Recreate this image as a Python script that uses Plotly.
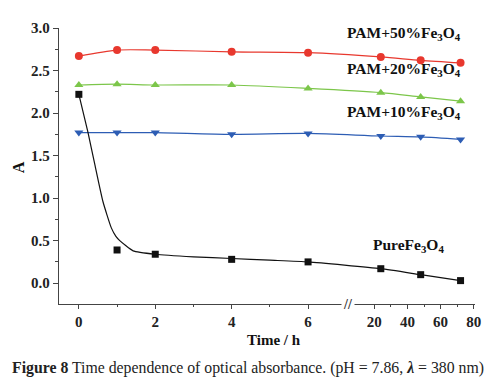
import plotly.graph_objects as go

# ---------------- data ----------------
time_h = [0, 1, 2, 4, 6, 24, 48, 72]
pam50 = [2.67, 2.74, 2.74, 2.72, 2.71, 2.66, 2.62, 2.59]
pam20 = [2.33, 2.34, 2.33, 2.33, 2.29, 2.24, 2.19, 2.14]
pam10 = [1.77, 1.77, 1.77, 1.75, 1.76, 1.73, 1.72, 1.69]
pure = [2.22, 0.39, 0.34, 0.28, 0.25, 0.17, 0.10, 0.03]

# fitted curve drawn through the Pure Fe3O4 points
pure_fit_t = [0, 0.24, 0.42, 0.63, 0.85, 0.97, 1.07, 1.42, 2, 3, 4, 5, 6, 24, 48, 72]
pure_fit_y = [2.22, 1.77, 1.39, 0.96, 0.65, 0.55, 0.50, 0.38, 0.34, 0.31, 0.29, 0.27, 0.25, 0.17, 0.10, 0.03]

left_ticks = [0, 2, 4, 6]
right_ticks = [20, 40, 60, 80]
left_minor = [1, 3, 5]
right_minor = [30, 50, 70]
y_ticks = [0.0, 0.5, 1.0, 1.5, 2.0, 2.5, 3.0]

# ---------------- broken x-axis mapping ----------------
BREAK_LEFT = 7.0          # end of the left (0..7 h) segment
RIGHT_ORIGIN = 7.73       # axis position of t = 20 h
RIGHT_SCALE = 0.0435      # axis units per hour in the right segment


def pos(t):
    return t if t <= BREAK_LEFT else RIGHT_ORIGIN + (t - 20) * RIGHT_SCALE


def positions(ts):
    return [pos(t) for t in ts]


RED = "#e8382e"
GREEN = "#7cc64a"
BLUE = "#2d5db4"
BLACK = "#111111"
FONT = "Liberation Serif"

fig = go.Figure()

fig.add_trace(go.Scatter(x=positions(time_h), y=pam50, mode="lines+markers",
                         line=dict(color=RED, width=1.2, shape="spline", smoothing=0.8),
                         marker=dict(symbol="circle", size=8, color=RED)))
fig.add_trace(go.Scatter(x=positions(time_h), y=pam20, mode="lines+markers",
                         line=dict(color=GREEN, width=1.2, shape="spline", smoothing=0.8),
                         marker=dict(symbol="triangle-up", size=8, color=GREEN)))
fig.add_trace(go.Scatter(x=positions(time_h), y=pam10, mode="lines+markers",
                         line=dict(color=BLUE, width=1.2, shape="spline", smoothing=0.8),
                         marker=dict(symbol="triangle-down", size=8, color=BLUE)))
fig.add_trace(go.Scatter(x=positions(pure_fit_t), y=pure_fit_y, mode="lines",
                         line=dict(color=BLACK, width=1.2, shape="spline", smoothing=0.5)))
fig.add_trace(go.Scatter(x=positions(time_h), y=pure, mode="markers",
                         marker=dict(symbol="square", size=7, color=BLACK)))

axis_font = dict(family=FONT, size=15, color="#222222")

fig.update_xaxes(
    range=[-0.52, 10.37],
    tickmode="array",
    tickvals=positions(left_ticks + right_ticks),
    ticktext=[f"<b>{t}</b>" for t in left_ticks + right_ticks],
    ticks="outside", ticklen=4, tickwidth=1.2, tickcolor="#444444",
    minor=dict(tickmode="array", tickvals=positions(left_minor + right_minor),
               ticks="outside", ticklen=2, tickcolor="#444444"),
    showline=True, linecolor="#444444", linewidth=1.4,
    showgrid=False, zeroline=False,
    tickfont=axis_font,
)
fig.update_yaxes(
    range=[-0.245, 3.0],
    tickmode="array",
    tickvals=y_ticks,
    ticktext=[f"<b>{v:.1f}</b>" for v in y_ticks],
    ticks="outside", ticklen=5, tickwidth=1.2, tickcolor="#444444",
    minor=dict(dtick=0.25, tick0=0, ticks="outside", ticklen=3, tickcolor="#444444"),
    showline=True, linecolor="#444444", linewidth=1.4,
    showgrid=False, zeroline=False,
    tickfont=axis_font,
)

label_font = dict(family=FONT, size=15.5, color="#111111")
annotations = [
    dict(x=pos(38), y=2.94, text="<b>PAM+50%Fe<sub>3</sub>O<sub>4</sub></b>"),
    dict(x=pos(38), y=2.51, text="<b>PAM+20%Fe<sub>3</sub>O<sub>4</sub></b>"),
    dict(x=pos(38), y=2.01, text="<b>PAM+10%Fe<sub>3</sub>O<sub>4</sub></b>"),
    dict(x=pos(40.5), y=0.44, text="<b>PureFe<sub>3</sub>O<sub>4</sub></b>"),
]
for a in annotations:
    fig.add_annotation(xref="x", yref="y", showarrow=False, font=label_font,
                       xanchor="center", yanchor="middle", **a)

# axis break mark
fig.add_annotation(x=7.05, y=-0.245, xref="x", yref="y", text="<b>//</b>", showarrow=False,
                   font=dict(family=FONT, size=14, color="#333333"),
                   xanchor="center", yanchor="middle", bgcolor="white")

# axis titles
fig.add_annotation(xref="paper", yref="paper", x=0.516, y=-0.129, xanchor="center", yanchor="middle",
                   text="<b>Time / h</b>", showarrow=False,
                   font=dict(family=FONT, size=15, color="#111111"))
fig.add_annotation(xref="paper", yref="paper", x=-0.098, y=0.496, xanchor="center", yanchor="middle",
                   text="<b>A</b>", showarrow=False, textangle=-90,
                   font=dict(family=FONT, size=16, color="#111111"))

# caption
fig.add_annotation(xref="paper", yref="paper", x=-0.118, y=-0.232, xanchor="left", yanchor="middle",
                   text="<b>Figure 8</b> Time dependence of optical absorbance. (pH = 7.86, <b><i>λ</i></b> = 380 nm)",
                   showarrow=False, font=dict(family=FONT, size=15.8, color="#222222"))

# the page body adds an 8px margin, so the figure is sized to end at the window edge
fig.update_layout(
    width=485, height=378,
    margin=dict(l=51, r=17, t=16, b=82),
    paper_bgcolor="white", plot_bgcolor="white",
    showlegend=False,
)

fig.write_html("out.html")
